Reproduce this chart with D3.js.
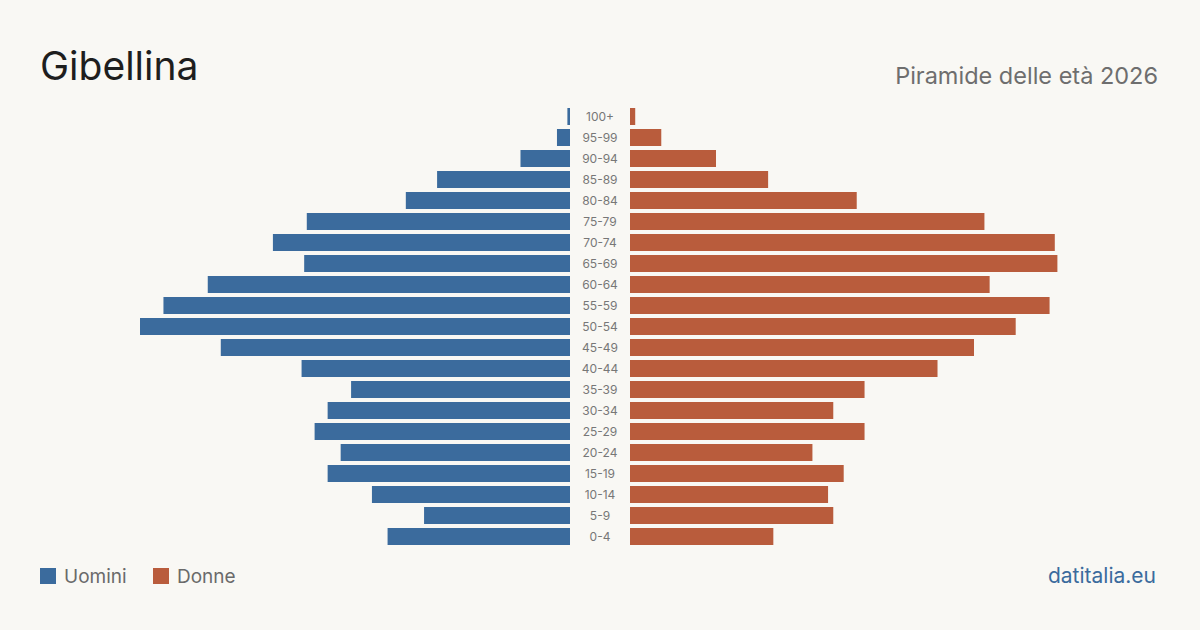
<!DOCTYPE html>
<html>
<head>
<meta charset="utf-8">
<script src="https://cdn.jsdelivr.net/npm/d3@7"></script>
<style>
  body { margin: 0; background: #f9f8f4; }
  svg { display: block; font-family: Inter, "Noto Sans", sans-serif; }
</style>
</head>
<body>
<div id="chart"></div>
<script>
// classi di età, dalla più anziana alla più giovane
var ageGroups = ["100+", "95-99", "90-94", "85-89", "80-84", "75-79", "70-74", "65-69", "60-64", "55-59",
  "50-54", "45-49", "40-44", "35-39", "30-34", "25-29", "20-24", "15-19", "10-14", "5-9", "0-4"];
var uomini = [1, 5, 19, 51, 63, 101, 114, 102, 139, 156, 165, 134, 103, 84, 93, 98, 88, 93, 76, 56, 70];
var donne = [2, 12, 33, 53, 87, 136, 163, 164, 138, 161, 148, 132, 118, 90, 78, 90, 70, 82, 76, 78, 55];

var width = 1200, height = 630;
var blue = "#3b6b9d", red = "#b95c3c";

var svg = d3.select("#chart").append("svg")
  .attr("width", width)
  .attr("height", height);

svg.append("rect").attr("width", width).attr("height", height).attr("fill", "#f9f8f4");

// titolo e sottotitolo
svg.append("text").attr("x", 40).attr("y", 80)
  .text("Gibellina")
  .style("font-size", "39px").attr("fill", "#1e1e1e");
svg.append("text").attr("x", 1158).attr("y", 84)
  .attr("text-anchor", "end")
  .text("Piramide delle età 2026")
  .style("font-size", "23.5px").attr("fill", "#6e6e6e");

// scale
var y = d3.scaleBand()
  .domain(ageGroups)
  .range([108, 545])
  .paddingInner(4 / 21)
  .paddingOuter(0);

var maxVal = d3.max(uomini.concat(donne));
var w = d3.scaleLinear().domain([0, maxVal]).range([0, 430]);

var leftEdge = 570, rightEdge = 630;

svg.selectAll(".bar-m")
  .data(ageGroups)
  .enter().append("rect")
    .attr("class", "bar-m")
    .attr("x", (d, i) => leftEdge - w(uomini[i]))
    .attr("y", d => y(d))
    .attr("width", (d, i) => w(uomini[i]))
    .attr("height", y.bandwidth())
    .attr("fill", blue);

svg.selectAll(".bar-f")
  .data(ageGroups)
  .enter().append("rect")
    .attr("class", "bar-f")
    .attr("x", rightEdge)
    .attr("y", d => y(d))
    .attr("width", (d, i) => w(donne[i]))
    .attr("height", y.bandwidth())
    .attr("fill", red);

// etichette centrali
svg.selectAll(".age-label")
  .data(ageGroups)
  .enter().append("text")
    .attr("class", "age-label")
    .attr("x", 600)
    .attr("y", d => y(d) + y.bandwidth() / 2)
    .attr("dy", "0.35em")
    .attr("text-anchor", "middle")
    .style("font-size", "12px")
    .attr("fill", "#777")
    .text(d => d);

// legenda
svg.append("rect").attr("x", 40).attr("y", 568).attr("width", 16).attr("height", 16).attr("fill", blue);
svg.append("text").attr("x", 64).attr("y", 583).text("Uomini").style("font-size", "19px").attr("fill", "#6a6a6a");
svg.append("rect").attr("x", 153).attr("y", 568).attr("width", 16).attr("height", 16).attr("fill", red);
svg.append("text").attr("x", 177).attr("y", 583).text("Donne").style("font-size", "19px").attr("fill", "#6a6a6a");

svg.append("text").attr("x", 1156).attr("y", 583)
  .attr("text-anchor", "end")
  .text("datitalia.eu")
  .style("font-size", "21px").attr("fill", blue);
</script>
</body>
</html>
